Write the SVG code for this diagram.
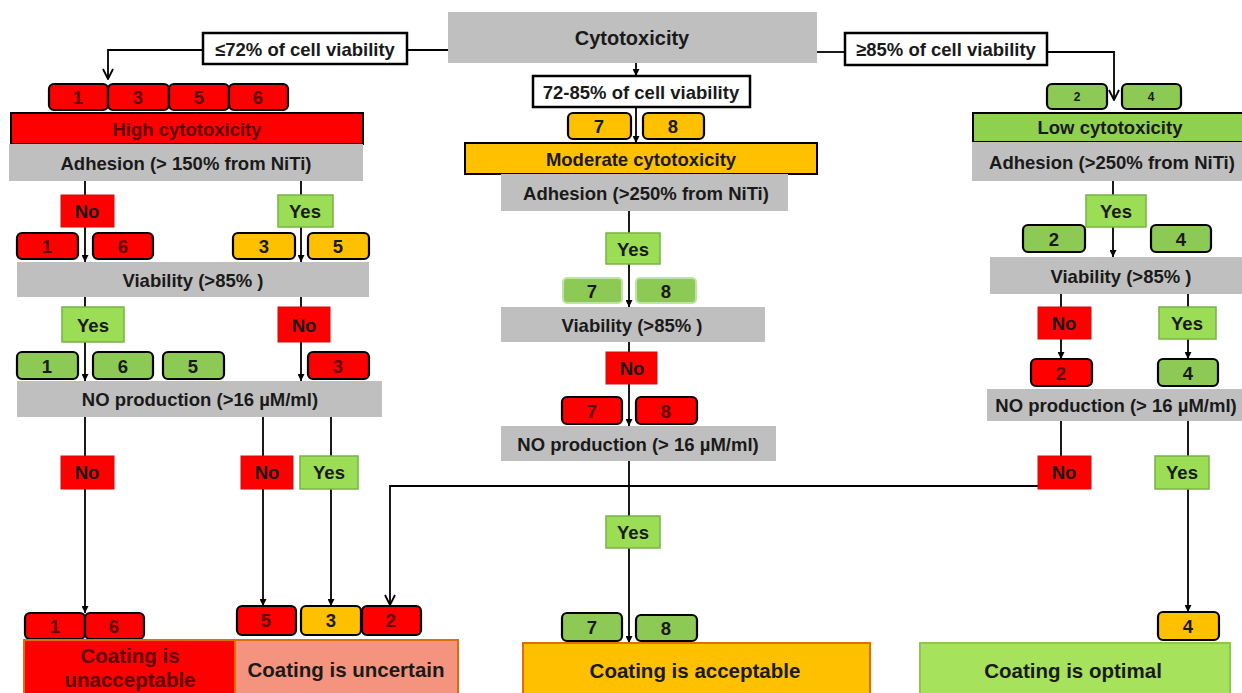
<svg xmlns="http://www.w3.org/2000/svg" width="1242" height="693" viewBox="0 0 1242 693">
<style>
.t{font-family:"Liberation Sans",Arial,sans-serif;font-weight:bold;font-size:18.5px;text-anchor:middle;dominant-baseline:central;fill:#1a1a1a}
.big{font-size:20.5px}
.hd{font-size:20px}
.sm{font-size:12px}
.dr{fill:#5e0000}
.gray{fill:#BFBFBF}
.lbl{fill:#fff;stroke:#000;stroke-width:2.5}
.num{stroke:#000;stroke-width:2.2}
.r{fill:#FF0000}
.o{fill:#FFC000}
.gn{fill:#8DC955}
.gl{fill:#8DC955;stroke:#BFE3A3;stroke-width:2}
.yes{fill:#9BDD55;stroke:#76B343;stroke-width:1.5}
.no{fill:#FF0000;stroke:#C81010;stroke-width:1}
.cat{stroke:#000;stroke-width:2}
.out{stroke:#E26B0A;stroke-width:2}
.c{fill:none;stroke:#000;stroke-width:1.8}
</style>
<defs>
<marker id="arr" viewBox="0 0 10 10" refX="10" refY="5" markerWidth="7" markerHeight="7" markerUnits="userSpaceOnUse" orient="auto"><path d="M0,0 L10,5 L0,10 z" fill="#000"/></marker>
<marker id="open" viewBox="0 0 12 12" refX="11" refY="6" markerWidth="12" markerHeight="12" markerUnits="userSpaceOnUse" orient="auto"><path d="M1,1 L11,6 L1,11" fill="none" stroke="#000" stroke-width="1.8"/></marker>
</defs>
<rect width="1242" height="693" fill="#fff"/>

<g id="connectors">
<path class="c" d="M448,50 H407"/>
<path class="c" d="M203,50 H108 V79" marker-end="url(#open)"/>
<path class="c" d="M817,52 H845"/>
<path class="c" d="M1047,52 H1114 V100" marker-end="url(#open)"/>
<path class="c" d="M636,63 V76" marker-end="url(#arr)"/>
<path class="c" d="M636,107 V143" marker-end="url(#arr)"/>
<path class="c" d="M85,181 V195"/>
<path class="c" d="M85,227 V262" marker-end="url(#arr)"/>
<path class="c" d="M301,181 V195"/>
<path class="c" d="M301,227 V262" marker-end="url(#arr)"/>
<path class="c" d="M85,297 V307"/>
<path class="c" d="M85,342 V381" marker-end="url(#arr)"/>
<path class="c" d="M301,297 V307"/>
<path class="c" d="M301,342 V381" marker-end="url(#arr)"/>
<path class="c" d="M85,417 V456"/>
<path class="c" d="M85,489 V613" marker-end="url(#arr)"/>
<path class="c" d="M263,417 V456"/>
<path class="c" d="M263,489 V606" marker-end="url(#arr)"/>
<path class="c" d="M331,417 V456"/>
<path class="c" d="M331,489 V606" marker-end="url(#arr)"/>
<path class="c" d="M1038,486 H390 V605" marker-end="url(#open)"/>
<path class="c" d="M629,211 V233"/>
<path class="c" d="M629,264 V307" marker-end="url(#arr)"/>
<path class="c" d="M629,342 V352"/>
<path class="c" d="M629,384 V426" marker-end="url(#arr)"/>
<path class="c" d="M629,461 V516"/>
<path class="c" d="M629,548 V643" marker-end="url(#arr)"/>
<path class="c" d="M1113,181 V195"/>
<path class="c" d="M1113,227 V257" marker-end="url(#arr)"/>
<path class="c" d="M1061,294 V307"/>
<path class="c" d="M1061,339 V359" marker-end="url(#arr)"/>
<path class="c" d="M1188,294 V307"/>
<path class="c" d="M1188,339 V359" marker-end="url(#arr)"/>
<path class="c" d="M1061,421 V456"/>
<path class="c" d="M1188,421 V456"/>
<path class="c" d="M1188,489 V612" marker-end="url(#arr)"/>
</g>

<!-- Top -->
<g id="cytotoxicity"><rect class="gray" x="448" y="12" width="369" height="51"/><text class="t hd" x="632" y="38">Cytotoxicity</text></g>
<g id="lbl-le72"><rect class="lbl" x="203" y="33" width="204" height="31"/><text class="t" x="305" y="49">≤72% of cell viability</text></g>
<g id="lbl-ge85"><rect class="lbl" x="845" y="33" width="202" height="32"/><text class="t" x="946" y="49">≥85% of cell viability</text></g>
<g id="lbl-72-85"><rect class="lbl" x="533" y="76" width="217" height="31"/><text class="t" x="641" y="92">72-85% of cell viability</text></g>

<!-- Left column -->
<g id="l-nums-top">
<rect class="num r" x="49" y="84" width="59" height="26" rx="5"/><text class="t dr" x="78" y="97">1</text>
<rect class="num r" x="108" y="84" width="61" height="26" rx="5"/><text class="t dr" x="138" y="97">3</text>
<rect class="num r" x="169" y="84" width="60" height="26" rx="5"/><text class="t dr" x="199" y="97">5</text>
<rect class="num r" x="229" y="84" width="59" height="26" rx="5"/><text class="t dr" x="258" y="97">6</text>
</g>
<g id="high"><rect class="cat r" x="11" y="113" width="352" height="31"/><text class="t dr" x="187" y="129">High cytotoxicity</text></g>
<g id="l-adhesion"><rect class="gray" x="9" y="144" width="354" height="37"/><text class="t" x="186" y="163">Adhesion (&gt; 150% from NiTi)</text></g>
<g id="l-no1"><rect class="no" x="61" y="195" width="53" height="32"/><text class="t" x="87" y="211">No</text></g>
<g id="l-yes1"><rect class="yes" x="278" y="195" width="55" height="32"/><text class="t" x="305" y="211">Yes</text></g>
<g id="l-nums-2">
<rect class="num r" x="17" y="233" width="61" height="26" rx="5"/><text class="t dr" x="47" y="246">1</text>
<rect class="num r" x="93" y="233" width="60" height="26" rx="5"/><text class="t dr" x="123" y="246">6</text>
<rect class="num o" x="233" y="233" width="62" height="26" rx="5"/><text class="t" x="264" y="246">3</text>
<rect class="num o" x="308" y="233" width="61" height="26" rx="5"/><text class="t" x="338" y="246">5</text>
</g>
<g id="l-viability"><rect class="gray" x="17" y="262" width="352" height="35"/><text class="t" x="193" y="280">Viability (&gt;85% )</text></g>
<g id="l-yes2"><rect class="yes" x="62" y="307" width="62" height="35"/><text class="t" x="93" y="325">Yes</text></g>
<g id="l-no2"><rect class="no" x="278" y="307" width="52" height="35"/><text class="t" x="304" y="325">No</text></g>
<g id="l-nums-3">
<rect class="num gn" x="17" y="352" width="61" height="27" rx="5"/><text class="t" x="47" y="366">1</text>
<rect class="num gn" x="93" y="352" width="60" height="27" rx="5"/><text class="t" x="123" y="366">6</text>
<rect class="num gn" x="163" y="352" width="61" height="27" rx="5"/><text class="t" x="193" y="366">5</text>
<rect class="num r" x="308" y="352" width="61" height="27" rx="5"/><text class="t dr" x="338" y="366">3</text>
</g>
<g id="l-noprod"><rect class="gray" x="17" y="381" width="365" height="36"/><text class="t" x="200" y="399">NO production (&gt;16 µM/ml)</text></g>
<g id="l-no3"><rect class="no" x="61" y="456" width="53" height="33"/><text class="t" x="87" y="472">No</text></g>
<g id="l-no4"><rect class="no" x="241" y="456" width="52" height="33"/><text class="t" x="267" y="472">No</text></g>
<g id="l-yes3"><rect class="yes" x="300" y="456" width="58" height="33"/><text class="t" x="329" y="472">Yes</text></g>
<g id="bottom-nums-left">
<rect class="num r" x="25" y="613" width="60" height="26" rx="5"/><text class="t dr" x="55" y="626">1</text>
<rect class="num r" x="85" y="613" width="59" height="26" rx="5"/><text class="t dr" x="114" y="626">6</text>
<rect class="num r" x="237" y="606" width="59" height="29" rx="5"/><text class="t dr" x="266" y="620">5</text>
<rect class="num o" x="301" y="606" width="60" height="29" rx="5"/><text class="t" x="331" y="620">3</text>
<rect class="num r" x="362" y="606" width="59" height="29" rx="5"/><text class="t dr" x="391" y="620">2</text>
</g>
<g id="unacceptable"><rect class="out r" x="24" y="640" width="211" height="62"/><text class="t big dr" x="130" y="655">Coating is</text><text class="t big dr" x="130" y="679">unacceptable</text></g>
<g id="uncertain"><rect class="out" fill="#F4937E" x="235" y="640" width="223" height="62"/><text class="t big" x="346" y="669">Coating is uncertain</text></g>

<!-- Middle column -->
<g id="m-nums-top">
<rect class="num o" x="568" y="113" width="63" height="26" rx="5"/><text class="t" x="599" y="126">7</text>
<rect class="num o" x="643" y="113" width="61" height="26" rx="5"/><text class="t" x="673" y="126">8</text>
</g>
<g id="moderate"><rect class="cat o" x="465" y="143" width="352" height="31"/><text class="t" x="641" y="159">Moderate cytotoxicity</text></g>
<g id="m-adhesion"><rect class="gray" x="501" y="174" width="287" height="37"/><text class="t" x="646" y="193">Adhesion (&gt;250% from NiTi)</text></g>
<g id="m-yes1"><rect class="yes" x="606" y="233" width="54" height="31"/><text class="t" x="633" y="249">Yes</text></g>
<g id="m-nums-2">
<rect class="gl" x="563" y="278" width="59" height="25" rx="4"/><text class="t" x="592" y="291">7</text>
<rect class="gl" x="636" y="278" width="60" height="25" rx="4"/><text class="t" x="666" y="291">8</text>
</g>
<g id="m-viability"><rect class="gray" x="501" y="307" width="264" height="35"/><text class="t" x="632" y="325">Viability (&gt;85% )</text></g>
<g id="m-no1"><rect class="no" x="606" y="352" width="51" height="32"/><text class="t" x="632" y="368">No</text></g>
<g id="m-nums-3">
<rect class="num r" x="562" y="397" width="60" height="27" rx="5"/><text class="t dr" x="592" y="411">7</text>
<rect class="num r" x="636" y="397" width="61" height="27" rx="5"/><text class="t dr" x="666" y="411">8</text>
</g>
<g id="m-noprod"><rect class="gray" x="501" y="426" width="275" height="35"/><text class="t" x="638" y="444">NO production (&gt; 16 µM/ml)</text></g>
<g id="m-yes2"><rect class="yes" x="606" y="516" width="54" height="32"/><text class="t" x="633" y="532">Yes</text></g>
<g id="m-nums-bottom">
<rect class="num gn" x="562" y="613" width="60" height="28" rx="5"/><text class="t" x="592" y="627">7</text>
<rect class="num gn" x="636" y="615" width="61" height="26" rx="5"/><text class="t" x="666" y="628">8</text>
</g>
<g id="acceptable"><rect class="out o" x="523" y="643" width="347" height="60"/><text class="t big" x="695" y="670">Coating is acceptable</text></g>

<!-- Right column -->
<g id="r-nums-top">
<rect class="num gn" x="1047" y="84" width="60" height="25" rx="5"/><text class="t sm" x="1077" y="97">2</text>
<rect class="num gn" x="1122" y="84" width="59" height="25" rx="5"/><text class="t sm" x="1151" y="97">4</text>
</g>
<g id="low"><rect class="cat" fill="#8FD14F" x="973" y="113" width="275" height="29"/><text class="t" x="1110" y="127">Low cytotoxicity</text></g>
<g id="r-adhesion"><rect class="gray" x="972" y="142" width="275" height="39"/><text class="t" x="1112" y="162">Adhesion (&gt;250% from NiTi)</text></g>
<g id="r-yes1"><rect class="yes" x="1086" y="195" width="60" height="32"/><text class="t" x="1116" y="211">Yes</text></g>
<g id="r-nums-2">
<rect class="num gn" x="1023" y="225" width="62" height="27" rx="5"/><text class="t" x="1054" y="239">2</text>
<rect class="num gn" x="1151" y="225" width="60" height="27" rx="5"/><text class="t" x="1181" y="239">4</text>
</g>
<g id="r-viability"><rect class="gray" x="990" y="257" width="260" height="37"/><text class="t" x="1121" y="276">Viability (&gt;85% )</text></g>
<g id="r-no1"><rect class="no" x="1038" y="307" width="53" height="32"/><text class="t" x="1064" y="323">No</text></g>
<g id="r-yes2"><rect class="yes" x="1159" y="307" width="57" height="32"/><text class="t" x="1187" y="323">Yes</text></g>
<g id="r-nums-3">
<rect class="num r" x="1031" y="359" width="61" height="27" rx="5"/><text class="t dr" x="1061" y="373">2</text>
<rect class="num gn" x="1158" y="359" width="60" height="27" rx="5"/><text class="t" x="1188" y="373">4</text>
</g>
<g id="r-noprod"><rect class="gray" x="987" y="389" width="260" height="32"/><text class="t" x="1116" y="405">NO production (&gt; 16 µM/ml)</text></g>
<g id="r-no2"><rect class="no" x="1038" y="456" width="53" height="33"/><text class="t" x="1064" y="472">No</text></g>
<g id="r-yes3"><rect class="yes" x="1155" y="456" width="54" height="33"/><text class="t" x="1182" y="472">Yes</text></g>
<g id="r-num-bottom"><rect class="num o" x="1158" y="612" width="61" height="28" rx="5"/><text class="t" x="1188" y="626">4</text></g>
<g id="optimal"><rect fill="#A6E25B" stroke="#8CC84B" stroke-width="2" x="920" y="643" width="310" height="60"/><text class="t big" x="1073" y="670">Coating is optimal</text></g>
</svg>
